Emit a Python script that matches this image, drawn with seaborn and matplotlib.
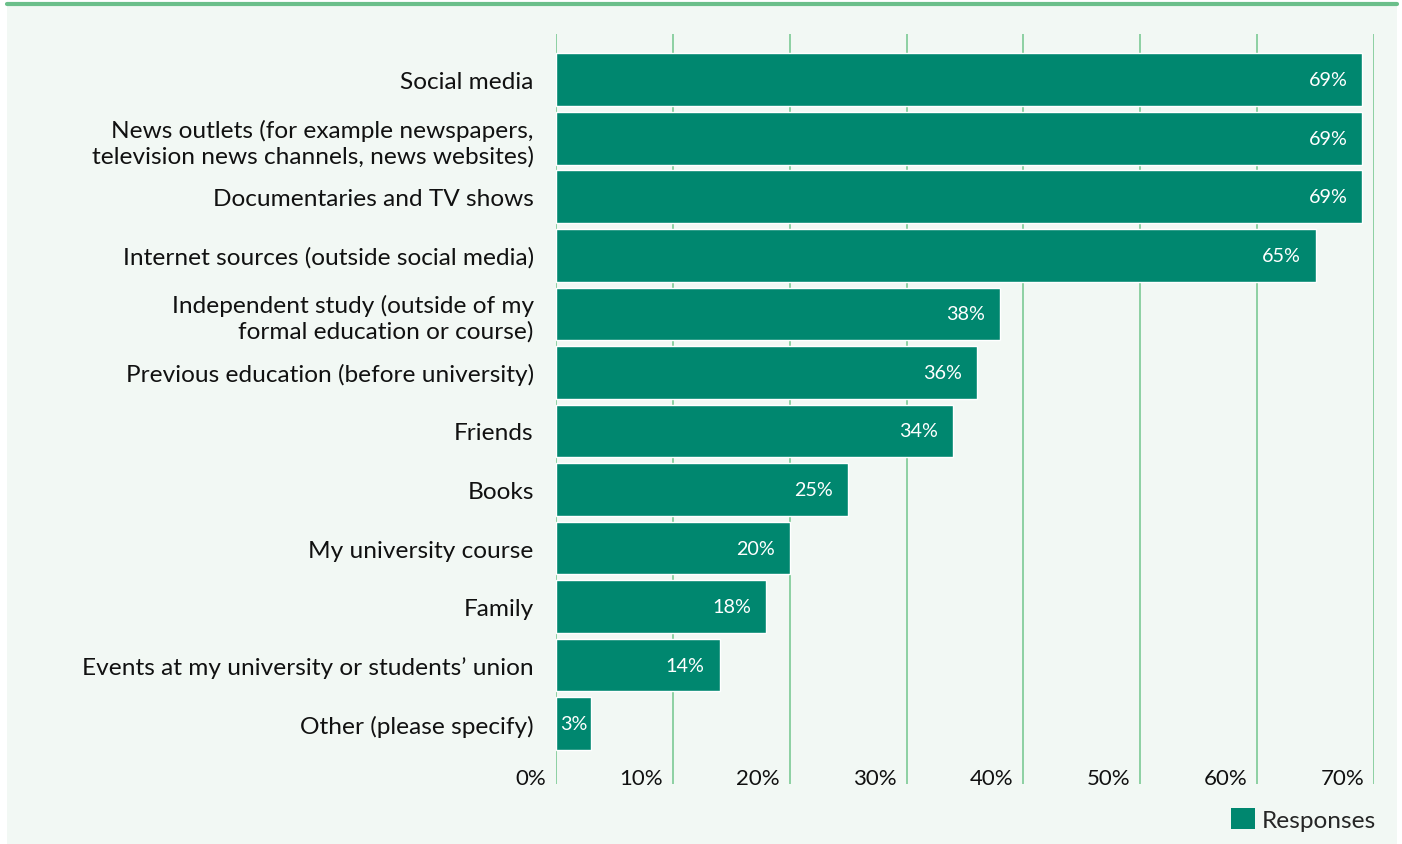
import matplotlib
matplotlib.use("Agg")
import matplotlib.pyplot as plt
import matplotlib.transforms as mtransforms
from matplotlib.patches import Patch, Rectangle
from matplotlib.lines import Line2D
import seaborn as sns
import pandas as pd

sources = [
    "Social media",
    "News outlets (for example newspapers,\ntelevision news channels, news websites)",
    "Documentaries and TV shows",
    "Internet sources (outside social media)",
    "Independent study (outside of my\nformal education or course)",
    "Previous education (before university)",
    "Friends",
    "Books",
    "My university course",
    "Family",
    "Events at my university or students\u2019 union",
    "Other (please specify)",
]
responses = [69, 69, 69, 65, 38, 36, 34, 25, 20, 18, 14, 3]
tick_values = [0, 10, 20, 30, 40, 50, 60, 70]
tick_labels = ["0%", "10%", "20%", "30%", "40%", "50%", "60%", "70%"]
series_name = "Responses"

BAR = "#00876F"
GRID = "#8DD0A2"
PANEL = "#F2F8F4"
TOPLINE = "#6BBF8A"

sns.set_theme(style="white")
plt.rcParams["font.family"] = ["Lato", "DejaVu Sans"]

df = pd.DataFrame({"source": sources, "share": responses})

fig = plt.figure(figsize=(14.02, 8.45), dpi=100, facecolor="white")
# light panel behind the chart with a green rule along its top
fig.patches.append(Rectangle((7 / 1402, 0), 1390 / 1402, 1 - 6 / 845,
                             transform=fig.transFigure, facecolor=PANEL,
                             edgecolor="none", zorder=-10))
fig.lines.append(Line2D([7 / 1402, 1397 / 1402], [1 - 5 / 845, 1 - 5 / 845],
                        transform=fig.transFigure, color=TOPLINE, lw=3, zorder=-5))

ax = fig.add_axes([556 / 1402, 1 - 785 / 845, (1374 - 556) / 1402, 750 / 845])
ax.set_facecolor("none")

sns.barplot(data=df, x="share", y="source", color=BAR, width=0.9,
            saturation=1, ax=ax, zorder=2)

ax.set_xlim(0, 70)
ax.set_ylim(12.03, -0.78)
for v in tick_values:
    ax.axvline(v, color=GRID, lw=1.4, zorder=1)

for s in ax.spines.values():
    s.set_visible(False)
ax.set_xlabel("")
ax.set_ylabel("")
ax.set_xticks([])
ax.tick_params(axis="y", length=0, pad=16, labelsize=17.6)
for lbl in ax.get_yticklabels():
    lbl.set_color("#111111")
    lbl.set_linespacing(1.25)
    lbl.set_horizontalalignment("right")

# x tick labels sit inside the plot area, just left of each gridline
xt = mtransforms.blended_transform_factory(ax.transData, ax.transAxes)
for v, t in zip(tick_values, tick_labels):
    tr = mtransforms.offset_copy(xt, fig=fig, x=-10, y=-4, units="dots")
    ax.text(v, 0, t, transform=tr, ha="right", va="bottom",
            fontsize=16, color="#111111")

# value labels inside the bar ends
for i, v in enumerate(responses):
    if v < 5:
        ax.text(v / 2, i, f"{v}%", ha="center", va="center",
                color="white", fontsize=14.2, zorder=3)
    else:
        tr = mtransforms.offset_copy(ax.transData, fig=fig, x=-15, y=0, units="dots")
        ax.text(v, i, f"{v}%", transform=tr, ha="right", va="center",
                color="white", fontsize=14.2, zorder=3)

fig.legend(handles=[Patch(facecolor=BAR, edgecolor="none", label=series_name)],
           loc="lower right", bbox_to_anchor=(1386 / 1402, 3 / 845),
           frameon=False, fontsize=17.6, handlelength=0.95, handleheight=0.95,
           handletextpad=0.3, borderaxespad=0)

fig.savefig("out.png", dpi=100, facecolor="white")
